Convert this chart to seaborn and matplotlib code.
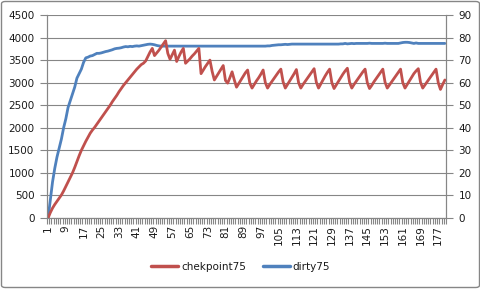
import numpy as np
import pandas as pd
import matplotlib
matplotlib.use("Agg")
import matplotlib.pyplot as plt
import seaborn as sns
from matplotlib.patches import FancyBboxPatch
from matplotlib.lines import Line2D

sns.set_theme(style="white")
plt.rcParams['font.family'] = ['DejaVu Sans']

categories = list(range(1, 181))

chekpoint75 = [
    0, 120, 220, 300, 370, 440, 510, 600, 700, 800,
    900, 1000, 1120, 1250, 1380, 1500, 1600, 1700, 1790, 1880,
    1950, 2010, 2080, 2150, 2220, 2290, 2360, 2430, 2500, 2580,
    2650, 2720, 2800, 2870, 2940, 3000, 3060, 3120, 3180, 3240,
    3300, 3350, 3400, 3430, 3480, 3580, 3680, 3760, 3600, 3660,
    3720, 3790, 3860, 3930, 3650, 3520, 3620, 3720, 3470, 3580,
    3680, 3760, 3430, 3480, 3530, 3590, 3640, 3700, 3760, 3200,
    3280, 3360, 3430, 3500, 3250, 3060, 3140, 3220, 3300, 3380,
    3050, 2990, 3110, 3240, 3060, 2900, 2980, 3060, 3140, 3220,
    3280, 2990, 2880, 2960, 3040, 3110, 3190, 3280, 3000, 2880,
    2960, 3030, 3100, 3170, 3240, 3300, 3020, 2880, 2960, 3040,
    3120, 3200, 3290, 3000, 2880, 2960, 3030, 3100, 3170, 3240,
    3310, 3010, 2880, 2970, 3060, 3150, 3230, 3300, 3000, 2870,
    2950, 3030, 3110, 3190, 3260, 3320, 3010, 2880, 2960, 3030,
    3100, 3170, 3240, 3300, 3000, 2870, 2940, 3020, 3090, 3160,
    3230, 3300, 3010, 2880, 2950, 3020, 3090, 3160, 3230, 3300,
    3000, 2880, 2960, 3040, 3120, 3200, 3260, 3310, 3010, 2880,
    2950, 3020, 3090, 3160, 3230, 3300, 3000, 2850, 2960, 3060,
]

dirty75 = [
    0, 8, 16, 22, 27, 31, 35, 40, 44, 49,
    52, 55, 58, 62, 64, 66, 69, 71, 71.3, 71.8,
    72, 72.5, 73, 73, 73.2, 73.5, 73.8, 74, 74.3, 74.6,
    75, 75.2, 75.3, 75.5, 75.8, 76, 75.9, 76.1, 76, 76.2,
    76.3, 76.2, 76.4, 76.6, 76.8, 77, 77.1, 77, 76.8, 76.5,
    76.3, 76.2, 76.2, 76.2, 76.2, 76.2, 76.2, 76.2, 76.2, 76.2,
    76.2, 76.2, 76.2, 76.2, 76.2, 76.2, 76.2, 76.2, 76.2, 76.2,
    76.2, 76.2, 76.2, 76.2, 76.2, 76.2, 76.2, 76.2, 76.2, 76.2,
    76.2, 76.2, 76.2, 76.2, 76.2, 76.2, 76.2, 76.2, 76.2, 76.2,
    76.2, 76.2, 76.2, 76.2, 76.2, 76.2, 76.2, 76.2, 76.2, 76.3,
    76.3, 76.5, 76.6, 76.7, 76.8, 76.8, 76.9, 77.0, 76.9, 77.0,
    77.1, 77.1, 77.1, 77.1, 77.1, 77.1, 77.1, 77.1, 77.1, 77.1,
    77.1, 77.1, 77.1, 77.1, 77.1, 77.1, 77.1, 77.1, 77.1, 77.1,
    77.1, 77.1, 77.2, 77.2, 77.4, 77.2, 77.3, 77.4, 77.3, 77.4,
    77.4, 77.4, 77.4, 77.4, 77.4, 77.5, 77.4, 77.4, 77.4, 77.4,
    77.4, 77.4, 77.5, 77.4, 77.4, 77.4, 77.4, 77.4, 77.4, 77.6,
    77.8, 77.9, 77.9, 77.8, 77.6, 77.4, 77.6, 77.4, 77.4, 77.4,
    77.4, 77.4, 77.4, 77.4, 77.4, 77.4, 77.4, 77.4, 77.4, 77.4,
]

left_ticks = list(range(0, 4501, 500))
right_ticks = list(range(0, 91, 10))
x_label_ticks = list(range(1, 181, 8))

df = pd.DataFrame({"cat": categories, "chekpoint75": chekpoint75, "dirty75": dirty75})

RED = "#C0504D"
BLUE = "#4F81BD"
GRID = "#868686"
TXT = "#1a1a1a"
FS = 7.5

W, H = 481, 289
fig = plt.figure(figsize=(W / 100, H / 100), dpi=100)
fig.patch.set_facecolor("white")

L, R, T, B = 47, 446, 15, 218
ax = fig.add_axes([L / W, 1 - B / H, (R - L) / W, (B - T) / H])
ax2 = ax.twinx()

# blue series on secondary axis (drawn behind)
sns.lineplot(data=df, x="cat", y="dirty75", ax=ax2, color=BLUE, lw=2.0, legend=False)
sns.lineplot(data=df, x="cat", y="chekpoint75", ax=ax, color=RED, lw=2.0, legend=False)

ax.set_zorder(ax2.get_zorder() + 1)
ax.patch.set_visible(False)

ax.set_xlim(0.5, 180.5)
ax.set_ylim(0, 4500)
ax2.set_ylim(0, 90)

ax.set_yticks(left_ticks)
ax2.set_yticks(right_ticks)
ax2.yaxis.grid(True, color=GRID, lw=0.8)
ax.grid(False)
ax2.xaxis.grid(False)
ax2.set_axisbelow(True)

ax.set_xticks(x_label_ticks)
ax.set_xticklabels([str(v) for v in x_label_ticks], rotation=90)
ax.set_xticks(np.arange(0.5, 181, 1), minor=True)
ax.tick_params(axis="x", which="major", length=0, pad=5, labelsize=FS, labelcolor=TXT)
ax.tick_params(axis="x", which="minor", length=4, width=0.8, color=GRID, direction="out", bottom=True)
ax.tick_params(axis="y", which="major", length=5, width=0.8, color=GRID, labelsize=FS, labelcolor=TXT, pad=4, left=True)
ax2.tick_params(axis="y", which="major", length=5, width=0.8, color=GRID, labelsize=FS, labelcolor=TXT, pad=4, right=True)

for a in (ax, ax2):
    a.set_xlabel("")
    a.set_ylabel("")
    a.spines["top"].set_visible(False)
    for s in ("left", "right", "bottom"):
        a.spines[s].set_color(GRID)
        a.spines[s].set_linewidth(0.8)

handles = [Line2D([0], [0], color=RED, lw=2.5), Line2D([0], [0], color=BLUE, lw=2.5)]
fig.legend(handles, ["chekpoint75", "dirty75"], loc="center",
           bbox_to_anchor=(0.5, 1 - 267 / H), ncol=2, frameon=False,
           fontsize=FS, handlelength=2.6, handletextpad=0.3, columnspacing=1.6,
           labelcolor=TXT)

border = FancyBboxPatch((1.5 / W, 1.5 / H), (W - 3) / W, (H - 3) / H,
                        boxstyle="round,pad=0,rounding_size=0.008",
                        transform=fig.transFigure, fill=False, ec=GRID, lw=1.0)
fig.patches.append(border)

fig.savefig("out.png", dpi=100)
